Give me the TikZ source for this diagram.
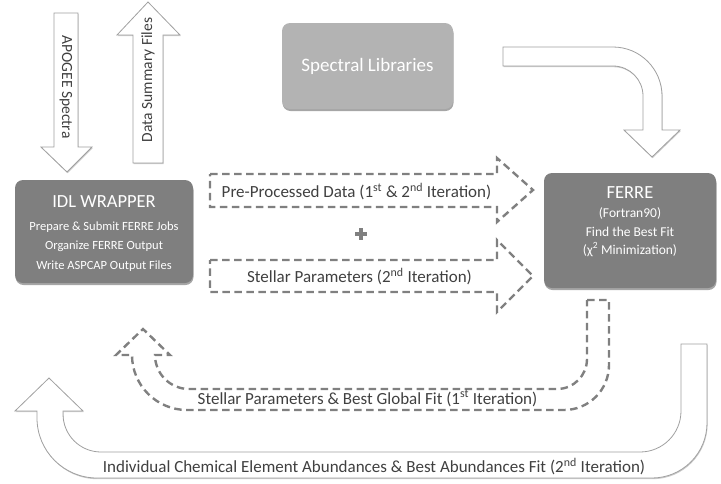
\documentclass[tikz,border=0pt]{standalone}
\usepackage{fontspec}
\setmainfont{Carlito}
\usetikzlibrary{shadows}
\definecolor{boxdark}{HTML}{7F7F7F}
\definecolor{boxlight}{HTML}{B3B3B3}
\definecolor{txt}{HTML}{404040}
\definecolor{dashc}{HTML}{808080}
\definecolor{hollow}{HTML}{A0A0A0}
\begin{document}
\begin{tikzpicture}[x=1pt,y=1pt,
  hollowarrow/.style={draw=hollow, line width=0.8pt, fill=white, line join=miter,
    drop shadow={shadow xshift=0.6pt, shadow yshift=-1.2pt, opacity=0.2, fill=black}},
  dasharrow/.style={draw=dashc, line width=2.4pt, dash pattern=on 7.5pt off 4.5pt, line join=miter},
  procbox/.style={rounded corners=8pt, draw=none, inner sep=0pt,
    drop shadow={shadow xshift=0.5pt, shadow yshift=-2pt, opacity=0.35, fill=black}},
  lab/.style={text=txt, font=\fontsize{17}{20}\selectfont, inner sep=0pt},
  vlab/.style={text=txt, font=\fontsize{15.5}{18}\selectfont, inner sep=0pt},
  wtitle/.style={text=white, inner sep=0pt, anchor=base, font=\fontsize{18.5}{22}\selectfont},
  wline/.style={text=white, inner sep=0pt, anchor=base, font=\fontsize{12.5}{15}\selectfont},
  fline/.style={wline, font=\fontsize{13.5}{16}\selectfont},
]
\useasboundingbox (0,0) rectangle (721,-483);

% --- input / output hollow arrows
\path[hollowarrow] (54,-13) -- (78,-13) -- (78,-147) -- (92,-147) -- (67,-172) -- (41,-147) -- (54,-147) -- cycle;
\node[vlab, rotate=-90] (apoT) at (66,-87) {APOGEE Spectra};
\path[hollowarrow] (133,-163) -- (133,-35) -- (117,-35) -- (148,-2) -- (180,-35) -- (163,-35) -- (163,-163) -- cycle;
\node[vlab, rotate=90] (dsfT) at (148,-80) {Data Summary Files};

% --- boxes
\node[procbox, fill=boxdark, minimum width=178pt, minimum height=103pt] (idl) at (104,-231.5) {};
\node[wtitle] (idlT) at (104,-207) {IDL WRAPPER};
\node[wline] (idl1) at (104,-230) {Prepare \& Submit FERRE Jobs};
\node[wline] (idl2) at (104,-249.5) {Organize FERRE Output};
\node[wline] (idl3) at (104,-269.5) {Write ASPCAP Output Files};

\node[procbox, fill=boxlight, minimum width=171pt, minimum height=86pt] (lib) at (367.5,-66) {};
\node[wline, font=\fontsize{19}{22}\selectfont] (libT) at (367.5,-71.5) {Spectral Libraries};

\node[procbox, fill=boxdark, minimum width=172pt, minimum height=115pt] (ferre) at (630,-230.5) {};
\node[wtitle] (ferreT) at (630,-198) {FERRE};
\node[fline] (ferre1) at (630,-217) {(Fortran90)};
\node[fline] (ferre2) at (630,-236) {Find the Best Fit};
\node[fline] (ferre3) at (630,-254) {(χ\textsuperscript{2} Minimization)};

% --- spectral libraries bent arrow
\path[hollowarrow] (503,-47) -- (613,-47) arc[start angle=90, end angle=0, radius=49pt]
  -- (662,-130) -- (680,-130) -- (652,-157) -- (624,-130) -- (643,-130) -- (643,-96)
  arc[start angle=0, end angle=90, radius=30pt] -- (503,-66) -- cycle;

% --- dashed arrows to FERRE
\draw[dasharrow] (210,-174) -- (497,-174) -- (497,-158) -- (533,-190) -- (497,-222) -- (497,-207) -- (210,-207) -- cycle;
\node[lab] (preT) at (356.5,-191.5) {Pre-Processed Data (1\textsuperscript{st} \& 2\textsuperscript{nd} Iteration)};
\draw[dashc, line width=3.5pt] (355,-234) -- (367,-234) (361,-228) -- (361,-240);
\draw[dasharrow] (210,-260) -- (497,-260) -- (497,-240) -- (533,-276) -- (497,-312) -- (497,-292) -- (210,-292) -- cycle;
\node[lab] (spT) at (359.5,-276.5) {Stellar Parameters (2\textsuperscript{nd} Iteration)};

% --- dashed U-turn back to the wrapper
\draw[dasharrow] (587,-300) -- (609,-300) -- (609,-365) arc[start angle=0, end angle=-90, radius=45pt]
  -- (187,-410) arc[start angle=270, end angle=180, radius=55pt]
  -- (116,-355) -- (143,-329) -- (170,-355) -- (155,-355)
  arc[start angle=180, end angle=270, radius=34pt]
  -- (557,-389) arc[start angle=-90, end angle=0, radius=30pt] -- cycle;
\node[lab] (sgT) at (367.5,-398.5) {Stellar Parameters \& Best Global Fit (1\textsuperscript{st} Iteration)};

% --- big hollow U-turn
\path[hollowarrow] (681,-344) -- (707,-344) -- (707,-423) arc[start angle=0, end angle=-90, radius=55pt]
  -- (97,-478) arc[start angle=270, end angle=180, radius=60pt]
  -- (37,-411) -- (15,-411) -- (49,-378) -- (83,-411) -- (63,-411) -- (63,-414)
  arc[start angle=180, end angle=270, radius=38pt]
  -- (640,-452) arc[start angle=-90, end angle=0, radius=41pt] -- cycle;
\node[lab] (abT) at (374,-466.5) {Individual Chemical Element Abundances \& Best Abundances Fit (2\textsuperscript{nd} Iteration)};
\end{tikzpicture}
\end{document}
